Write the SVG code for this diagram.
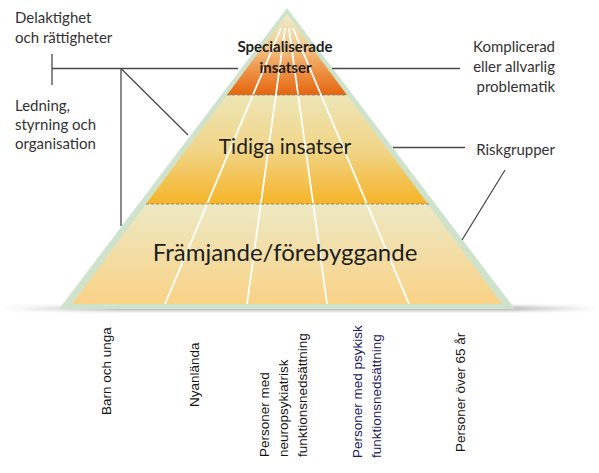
<svg xmlns="http://www.w3.org/2000/svg" width="599" height="473" viewBox="0 0 599 473">
<style>
.lbl{font-family:Lato,"Open Sans","Liberation Sans",sans-serif;font-size:15px;fill:#333}
.lvl{font-family:Lato,"Open Sans","Liberation Sans",sans-serif;fill:#1e1e1e;text-anchor:middle}
.grp{font-family:"Liberation Sans",Arial,sans-serif;font-size:13.5px;fill:#141414}
.con{stroke:#4a4a4a;stroke-width:1.3;fill:none}
.dash{stroke:#8c8a78;stroke-width:1;stroke-dasharray:3 2;fill:none}
.col{stroke:#ffffff;stroke-width:1.8;fill:none}
</style>
<defs>
<linearGradient id="gTop" x1="0" y1="14" x2="0" y2="95" gradientUnits="userSpaceOnUse">
<stop offset="0" stop-color="#efecca"/><stop offset="0.35" stop-color="#f2cf95"/><stop offset="0.7" stop-color="#ee9346"/><stop offset="1" stop-color="#e5650f"/>
</linearGradient>
<linearGradient id="gMid" x1="0" y1="95" x2="0" y2="204" gradientUnits="userSpaceOnUse">
<stop offset="0" stop-color="#eee6b6"/><stop offset="0.5" stop-color="#f1d588"/><stop offset="1" stop-color="#f6b428"/>
</linearGradient>
<linearGradient id="gBot" x1="0" y1="204" x2="0" y2="304" gradientUnits="userSpaceOnUse">
<stop offset="0" stop-color="#ede9c4"/><stop offset="1" stop-color="#f9d286"/>
</linearGradient>
<linearGradient id="gShadow" x1="0" y1="0" x2="599" y2="0" gradientUnits="userSpaceOnUse">
<stop offset="0" stop-color="#bdbdbd" stop-opacity="0"/><stop offset="0.2" stop-color="#a8a8a8" stop-opacity="0.8"/><stop offset="0.85" stop-color="#a8a8a8" stop-opacity="0.8"/><stop offset="1" stop-color="#bdbdbd" stop-opacity="0"/>
</linearGradient>
<filter id="blur" x="-10%" y="-300%" width="120%" height="700%"><feGaussianBlur stdDeviation="1.5"/></filter>
<clipPath id="inner"><polygon points="287,14 502,304 72,304"/></clipPath>
</defs>
<rect width="599" height="473" fill="#ffffff"/>
<rect x="0" y="306" width="599" height="5" fill="url(#gShadow)" filter="url(#blur)"/>
<g id="pyramid">
<polygon points="287,8 515,309 59,309" fill="#cfe3cc"/>
<g id="level-specialiserade">
<polygon points="287,14 347,95 227,95" fill="url(#gTop)"/>
</g>
<g id="level-tidiga">
<polygon points="227,95 347,95 428,204 146,204" fill="url(#gMid)"/>
</g>
<g id="level-framjande">
<polygon points="146,204 428,204 502,304 72,304" fill="url(#gBot)"/>
</g>
<g id="columns" clip-path="url(#inner)">
<line class="col" x1="281.1" y1="28" x2="165" y2="304"/>
<line class="col" x1="285.1" y1="28" x2="247" y2="304"/>
<line class="col" x1="288.9" y1="28" x2="327" y2="304"/>
<line class="col" x1="292.9" y1="28" x2="409" y2="304"/>
</g>
<line class="dash" x1="227" y1="95" x2="347" y2="95"/>
<line class="dash" x1="146" y1="204" x2="429" y2="204"/>
<text class="lvl" x="285" y="52" font-size="15" font-weight="bold">Specialiserade</text>
<text class="lvl" x="285.5" y="73" font-size="15" font-weight="bold">insatser</text>
<text class="lvl" x="285" y="154" font-size="21">Tidiga insatser</text>
<text class="lvl" x="285" y="261" font-size="24">Främjande/förebyggande</text>
</g>
<g id="connectors">
<line class="con" x1="52" y1="54" x2="52" y2="85"/>
<line class="con" x1="52" y1="68.5" x2="238" y2="68.5"/>
<line class="con" x1="121" y1="68.5" x2="121" y2="226"/>
<line class="con" x1="121" y1="68.5" x2="188" y2="135"/>
<line class="con" x1="332" y1="68.5" x2="460" y2="68.5"/>
<line class="con" x1="393" y1="147.5" x2="465" y2="147.5"/>
<line class="con" x1="505" y1="170" x2="462" y2="240"/>
</g>
<g id="label-delaktighet">
<text class="lbl" x="15" y="23">Delaktighet</text>
<text class="lbl" x="15" y="43">och rättigheter</text>
</g>
<g id="label-ledning">
<text class="lbl" x="15" y="111">Ledning,</text>
<text class="lbl" x="15" y="130">styrning och</text>
<text class="lbl" x="15" y="149">organisation</text>
</g>
<g id="label-komplicerad" text-anchor="end">
<text class="lbl" x="555" y="52">Komplicerad</text>
<text class="lbl" x="555" y="72">eller allvarlig</text>
<text class="lbl" x="555" y="92">problematik</text>
</g>
<g id="label-riskgrupper">
<text class="lbl" x="555" y="155" text-anchor="end">Riskgrupper</text>
</g>
<g id="group-barn">
<text class="grp" transform="translate(110.5,415) rotate(-90)">Barn och unga</text>
</g>
<g id="group-nyanlanda">
<text class="grp" transform="translate(198.5,407) rotate(-90)">Nyanlända</text>
</g>
<g id="group-neuro">
<text class="grp" transform="translate(268.5,457) rotate(-90)"><tspan x="0" y="0">Personer med</tspan><tspan x="0" dy="19">neuropsykiatrisk</tspan><tspan x="0" dy="19">funktionsnedsättning</tspan></text>
</g>
<g id="group-psykisk">
<text class="grp" style="fill:#1b2160" transform="translate(361.5,458) rotate(-90)"><tspan x="0" y="0">Personer med psykisk</tspan><tspan x="0" dy="19">funktionsnedsättning</tspan></text>
</g>
<g id="group-over65">
<text class="grp" transform="translate(465,452) rotate(-90)">Personer över 65 år</text>
</g>
</svg>
